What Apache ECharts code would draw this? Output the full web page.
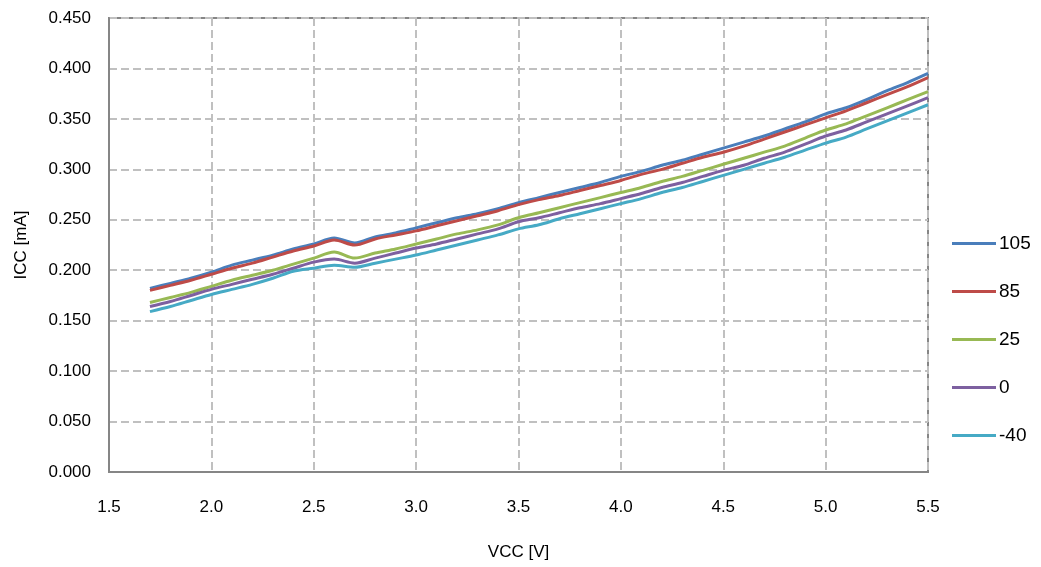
<!DOCTYPE html>
<html>
<head>
<meta charset="utf-8">
<script src="https://cdn.jsdelivr.net/npm/echarts@6/dist/echarts.min.js"></script>
<style>
  html, body { margin: 0; padding: 0; background: #fff; }
  #main { width: 1041px; height: 567px; }
</style>
</head>
<body>
<div id="main"></div>
<script>
// supply voltage (V)
const vcc = [1.7, 1.8, 1.9, 2.0, 2.1, 2.2, 2.3, 2.4, 2.5, 2.6, 2.7, 2.8, 2.9, 3.0, 3.1, 3.2, 3.3, 3.4, 3.5, 3.6,
  3.7, 3.8, 3.9, 4.0, 4.1, 4.2, 4.3, 4.4, 4.5, 4.6, 4.7, 4.8, 4.9, 5.0, 5.1, 5.2, 5.3, 5.4, 5.5]

// ICC (mA) per temperature
const icc105 = [0.182, 0.187, 0.192, 0.198, 0.205, 0.210, 0.215, 0.221, 0.226, 0.232, 0.227, 0.233, 0.237, 0.242,
  0.247, 0.252, 0.256, 0.261, 0.267, 0.272, 0.277, 0.282, 0.287, 0.293, 0.298, 0.304, 0.309, 0.315, 0.321, 0.327,
  0.333, 0.340, 0.347, 0.355, 0.361, 0.369, 0.378, 0.386, 0.395]
const icc85 = [0.180, 0.185, 0.190, 0.196, 0.202, 0.207, 0.213, 0.219, 0.224, 0.230, 0.225, 0.231, 0.235, 0.239,
  0.244, 0.249, 0.254, 0.259, 0.265, 0.270, 0.274, 0.279, 0.284, 0.289, 0.295, 0.300, 0.306, 0.312, 0.317, 0.323,
  0.330, 0.337, 0.344, 0.351, 0.358, 0.366, 0.374, 0.382, 0.391]
const icc25 = [0.168, 0.173, 0.178, 0.184, 0.190, 0.195, 0.200, 0.206, 0.212, 0.218, 0.212, 0.217, 0.221, 0.226,
  0.231, 0.236, 0.240, 0.245, 0.252, 0.257, 0.262, 0.267, 0.272, 0.277, 0.282, 0.288, 0.293, 0.299, 0.305, 0.311,
  0.317, 0.323, 0.331, 0.339, 0.345, 0.353, 0.361, 0.369, 0.377]
const icc0 = [0.164, 0.169, 0.175, 0.181, 0.186, 0.191, 0.196, 0.202, 0.208, 0.211, 0.207, 0.212, 0.217, 0.222,
  0.226, 0.231, 0.236, 0.241, 0.248, 0.252, 0.257, 0.262, 0.266, 0.271, 0.276, 0.282, 0.287, 0.293, 0.299, 0.304,
  0.311, 0.317, 0.325, 0.333, 0.339, 0.347, 0.355, 0.363, 0.371]
const iccM40 = [0.159, 0.164, 0.170, 0.176, 0.181, 0.186, 0.192, 0.199, 0.202, 0.205, 0.203, 0.207, 0.211, 0.215,
  0.220, 0.225, 0.230, 0.235, 0.241, 0.245, 0.251, 0.256, 0.261, 0.266, 0.271, 0.277, 0.282, 0.288, 0.294, 0.300,
  0.306, 0.312, 0.319, 0.326, 0.332, 0.340, 0.348, 0.356, 0.364]

const seriesNames = ['105', '85', '25', '0', '-40']
const seriesData = [icc105, icc85, icc25, icc0, iccM40]
const colors = ['#4a7ebb', '#be4b48', '#98b954', '#7d60a0', '#46aac5']

const chart = echarts.init(document.getElementById('main'))

const font = 'Liberation Sans, Arial, sans-serif'
const gridLine = {
  show: true,
  lineStyle: { color: '#c0c0c0', type: [8, 4], width: 2 },
}

const option = {
  animation: false,
  color: colors,
  grid: {
    left: 109,
    right: 113,
    top: 18,
    bottom: 95,
    show: true,
    borderColor: '#868686',
    borderWidth: 2,
  },
  legend: {
    orient: 'vertical',
    left: 947,
    top: 229,
    icon: 'rect',
    itemWidth: 44,
    itemHeight: 3,
    itemGap: 29,
    textStyle: { fontFamily: font, fontSize: 19, color: '#000', padding: [0, 0, 0, -2] },
    data: seriesNames,
  },
  xAxis: {
    type: 'value',
    min: 1.5,
    max: 5.5,
    interval: 0.5,
    name: 'VCC [V]',
    nameLocation: 'middle',
    nameGap: 72,
    nameTextStyle: { fontFamily: font, fontSize: 17, color: '#000' },
    axisLine: { show: true, lineStyle: { color: '#868686', width: 2 } },
    axisTick: { show: false },
    axisLabel: {
      margin: 27,
      fontFamily: font,
      fontSize: 17,
      color: '#000',
      formatter: (v) => v.toFixed(1),
    },
    splitLine: gridLine,
  },
  yAxis: {
    type: 'value',
    min: 0,
    max: 0.45,
    interval: 0.05,
    name: 'ICC [mA]',
    nameLocation: 'middle',
    nameGap: 79,
    nameTextStyle: { fontFamily: font, fontSize: 17, color: '#000' },
    axisLine: { show: true, lineStyle: { color: '#868686', width: 2 } },
    axisTick: { show: false },
    axisLabel: {
      margin: 18,
      fontFamily: font,
      fontSize: 17,
      color: '#000',
      formatter: (v) => v.toFixed(3),
    },
    splitLine: gridLine,
  },
  series: seriesNames.map((name, i) => ({
    name: name,
    type: 'line',
    smooth: 0.3,
    showSymbol: false,
    symbol: 'none',
    lineStyle: { width: 3, color: colors[i] },
    data: vcc.map((x, j) => [x, seriesData[i][j]]),
  })),
}

chart.setOption(option)
</script>
</body>
</html>
